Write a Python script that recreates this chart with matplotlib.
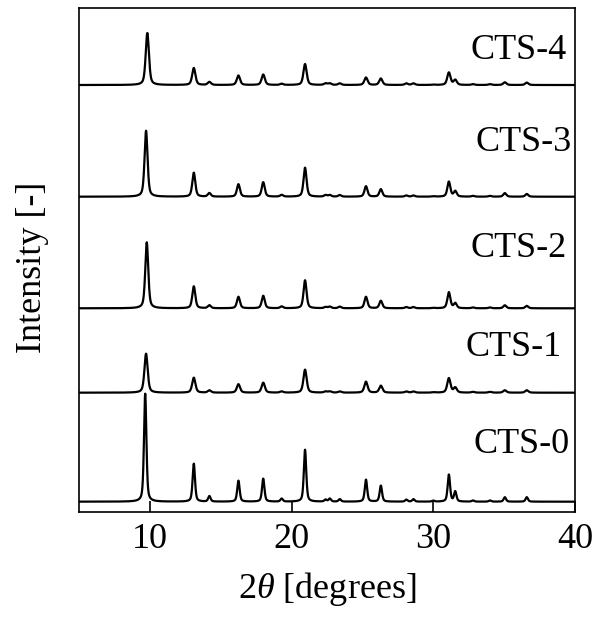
import numpy as np
import matplotlib
matplotlib.use("Agg")
import matplotlib.pyplot as plt

plt.rcParams['font.family'] = ['Liberation Serif', 'DejaVu Serif']
plt.rcParams['mathtext.fontset'] = 'custom'
plt.rcParams['mathtext.rm'] = 'Liberation Serif'
plt.rcParams['mathtext.it'] = 'Liberation Serif:italic'

# sample names, bottom to top
samples = ["CTS-0", "CTS-1", "CTS-2", "CTS-3", "CTS-4"]

# peak positions (2theta, deg)
peak_pos = [9.7, 13.1, 14.2, 16.25, 18.0, 19.3, 20.95, 22.4, 22.7, 23.4, 25.25,
            26.3, 28.1, 28.6, 30.0, 31.1, 31.55, 32.8, 34.0, 35.05, 36.6]

# peak heights per sample (arbitrary units)
h_cts0 = [108, 38, 5.5, 21, 23, 3, 52, 2, 3, 2.5, 22, 16, 2, 2.5, 1, 27, 10, 1.2, 1.2, 4.5, 4.5]
h_cts1 = [39, 15, 2.3, 8.5, 10, 1.2, 23, 1.2, 1.2, 1.2, 11, 7, 1.2, 1.2, 0.4, 14.5, 5, 0.8, 0.8, 2.4, 2.4]
h_cts2 = [66, 22, 3, 11.5, 12.5, 1.8, 28, 1.2, 1.6, 1.6, 11.5, 7.5, 1.2, 1.2, 0.4, 16, 5, 0.8, 0.8, 3, 2.4]
h_cts3 = [66, 24, 3.6, 12.5, 14.5, 1.8, 29, 1.6, 1.6, 1.6, 10.5, 7.5, 1.2, 1.2, 0.4, 15, 5.5, 0.8, 0.8, 3.6, 2.7]
h_cts4 = [52, 17, 3, 9.5, 10.5, 1.2, 21, 1.6, 1.6, 1.6, 7.5, 6.5, 1.6, 1.6, 0.4, 12.5, 5, 0.8, 0.8, 2.7, 2.4]
heights = [h_cts0, h_cts1, h_cts2, h_cts3, h_cts4]

# main reflection shifts slightly between samples
main_pos = [9.67, 9.73, 9.78, 9.73, 9.82]
# peak full width at half maximum (deg)
fwhm = [0.2, 0.27, 0.25, 0.25, 0.27]

# vertical offsets of each pattern
offsets = [10.3, 119.3, 203.7, 315.3, 427]

label_x = [39.65, 39.07, 39.42, 39.77, 39.42]
label_y = [67, 164, 264, 370, 462]


def pattern(x, pos, h, w):
    # pseudo-Voigt peaks, half lorentzian / half gaussian
    y = np.zeros_like(x)
    g = w / 2.0
    s = w / 2.3548
    for p, a in zip(pos, h):
        lor = g**2 / ((x - p)**2 + g**2)
        gau = np.exp(-0.5 * ((x - p) / s)**2)
        y += a * (0.5 * lor + 0.5 * gau)
    return y


x = np.linspace(5, 40, 3500)

fig = plt.figure(figsize=(6.0, 6.17), dpi=100)
ax = fig.add_axes([0.1317, 0.1702, 0.8266, 0.8168])

for i, name in enumerate(samples):
    pos = [main_pos[i]] + peak_pos[1:]
    y = pattern(x, pos, heights[i], fwhm[i]) + offsets[i]
    ax.plot(x, y, color='black', lw=1.6)
    ax.text(label_x[i], label_y[i], name, ha='right', va='center', fontsize=26)

ax.set_xlim(5, 40)
ax.set_ylim(0, 504)
ax.set_xticks([10, 20, 30, 40])
ax.set_yticks([])
ax.tick_params(axis='x', direction='in', length=8, width=1.2, labelsize=26, pad=8)
for s in ax.spines.values():
    s.set_linewidth(1.2)

ax.set_xlabel(r'2$\theta$ [degrees]', fontsize=26, labelpad=10)
ax.set_ylabel('Intensity [-]', fontsize=26)
ax.yaxis.set_label_coords(-0.06, 0.485)

fig.savefig('out.png', dpi=100)
